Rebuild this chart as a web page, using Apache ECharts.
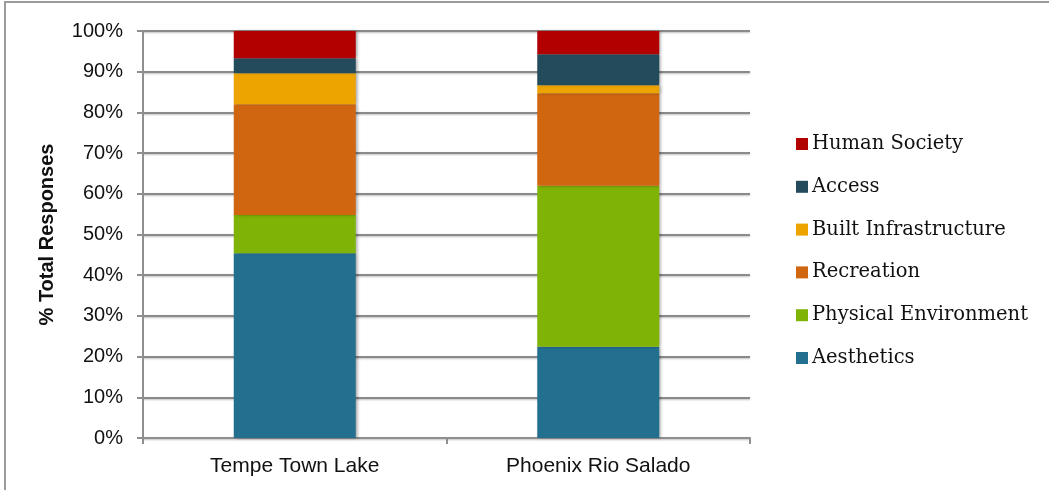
<!DOCTYPE html>
<html>
<head>
<meta charset="utf-8">
<script src="https://cdn.jsdelivr.net/npm/echarts@6/dist/echarts.min.js"></script>
<style>
  html, body { margin: 0; padding: 0; background: #fff; }
  #chart { width: 1049px; height: 490px; }
</style>
</head>
<body>
<div id="chart"></div>
<script>
// Share of total responses by theme, per site (percent)
const sites = ['Tempe Town Lake', 'Phoenix Rio Salado'];
const aesthetics = [45.4, 22.4];
const physicalEnvironment = [9.4, 39.6];
const recreation = [27.2, 22.7];
const builtInfrastructure = [7.6, 2.0];
const access = [3.7, 7.6];
const humanSociety = [6.7, 5.7];
const yTicks = [0, 10, 20, 30, 40, 50, 60, 70, 80, 90, 100];

const seriesDefs = [
  { name: 'Aesthetics', data: aesthetics, color: '#226F90' },
  { name: 'Physical Environment', data: physicalEnvironment, color: '#7FB306' },
  { name: 'Recreation', data: recreation, color: '#D06610' },
  { name: 'Built Infrastructure', data: builtInfrastructure, color: '#EDA400' },
  { name: 'Access', data: access, color: '#244B5C' },
  { name: 'Human Society', data: humanSociety, color: '#B20000' }
];

const chart = echarts.init(document.getElementById('chart'), null, { renderer: 'canvas' });

const axisGrey = '#8f8f8f';

chart.setOption({
  backgroundColor: '#ffffff',
  animation: false,
  graphic: [
    { type: 'line', shape: { x1: 4, y1: 2, x2: 1049, y2: 2 }, style: { stroke: '#9a9a9a', lineWidth: 2 } },
    { type: 'line', shape: { x1: 5, y1: 1, x2: 5, y2: 490 }, style: { stroke: '#9a9a9a', lineWidth: 2 } }
  ],
  grid: { left: 143, right: 299, top: 31, bottom: 52 },
  legend: {
    orient: 'vertical',
    left: 791,
    top: 129,
    itemWidth: 12,
    itemHeight: 12,
    itemGap: 22.8,
    icon: 'rect',
    data: seriesDefs.slice().reverse().map(s => s.name),
    textStyle: { fontFamily: 'DejaVu Serif', fontSize: 19.5, lineHeight: 20, color: '#111', padding: [0, 0, 0, -1] }
  },
  xAxis: {
    type: 'category',
    data: sites,
    axisLine: { lineStyle: { color: axisGrey, width: 2 } },
    axisTick: { show: true, length: 6, alignWithLabel: false, lineStyle: { color: axisGrey, width: 2 } },
    axisLabel: { fontFamily: 'Liberation Sans', fontSize: 21, color: '#111', margin: 18 }
  },
  yAxis: {
    type: 'value',
    min: yTicks[0],
    max: yTicks[yTicks.length - 1],
    interval: yTicks[1] - yTicks[0],
    name: '% Total Responses',
    nameLocation: 'middle',
    nameGap: 86,
    nameRotate: 90,
    nameTextStyle: { fontFamily: 'Liberation Sans', fontWeight: 'bold', fontSize: 20, color: '#111' },
    axisLine: { show: true, lineStyle: { color: axisGrey, width: 2 } },
    axisTick: { show: true, length: 6, lineStyle: { color: axisGrey, width: 2 } },
    axisLabel: { fontFamily: 'Liberation Sans', fontSize: 20, color: '#111', margin: 20, formatter: '{value}%' },
    splitLine: {
      lineStyle: {
        color: '#8a8a8a', width: 2,
        shadowColor: 'rgba(0,0,0,0.25)', shadowBlur: 2, shadowOffsetY: 1
      }
    }
  },
  series: seriesDefs.map(s => ({
    name: s.name,
    type: 'bar',
    stack: 'total',
    barWidth: 122,
    data: s.data,
    itemStyle: {
      color: s.color,
      shadowColor: 'rgba(0,0,0,0.35)',
      shadowBlur: 3,
      shadowOffsetX: 2,
      shadowOffsetY: 0
    },
    emphasis: { disabled: true }
  }))
});
</script>
</body>
</html>
